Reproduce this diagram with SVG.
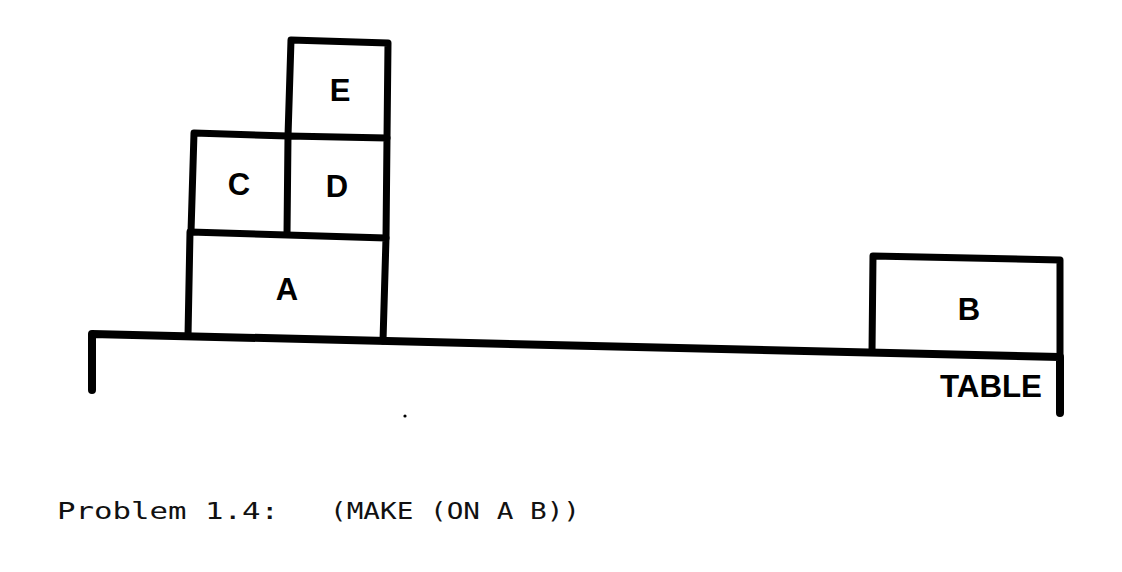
<svg xmlns="http://www.w3.org/2000/svg" width="1122" height="572" viewBox="0 0 1122 572">
<style>
.ln{fill:none;stroke:#000;stroke-width:7;stroke-linecap:round;stroke-linejoin:round}
.tb{fill:none;stroke:#000;stroke-width:8;stroke-linecap:round;stroke-linejoin:round}
.lbl{font-family:"Liberation Sans",Arial,sans-serif;font-weight:bold;font-size:31px;fill:#000;text-anchor:middle}
.cap{font-family:"DejaVu Sans Mono","Liberation Mono",monospace;font-size:23px;fill:#111}
</style>
<rect width="1122" height="572" fill="#fff"/>
<g id="table">
<path class="tb" d="M92,390 L92,334 L1060,357 L1060,413"/>
<text class="lbl" x="940" y="397" style="text-anchor:start" textLength="102" lengthAdjust="spacingAndGlyphs">TABLE</text>
</g>
<g id="block-A">
<path class="ln" d="M188,336 L190,232 L386,238 L383,341"/>
<text class="lbl" x="287" y="300">A</text>
</g>
<g id="block-C">
<path class="ln" d="M191,232 L194,133 L288,136"/>
<text class="lbl" x="239" y="195">C</text>
</g>
<g id="block-D">
<path class="ln" d="M288,136 L287,234 M288,136 L387,138 L386,238"/>
<text class="lbl" x="337" y="197">D</text>
</g>
<g id="block-E">
<path class="ln" d="M288,136 L291,40 L388,43 L387,138"/>
<text class="lbl" x="340" y="101">E</text>
</g>
<g id="block-B">
<path class="ln" d="M872,352 L873,256 L1060,260 L1060,357"/>
<text class="lbl" x="969" y="320">B</text>
</g>
<circle cx="405" cy="416" r="1.6" fill="#000"/>
<g id="caption">
<text class="cap" x="57" y="519" textLength="222" lengthAdjust="spacingAndGlyphs">Problem 1.4:</text>
<text class="cap" x="330" y="519" textLength="250" lengthAdjust="spacingAndGlyphs">(MAKE (ON A B))</text>
</g>
</svg>
